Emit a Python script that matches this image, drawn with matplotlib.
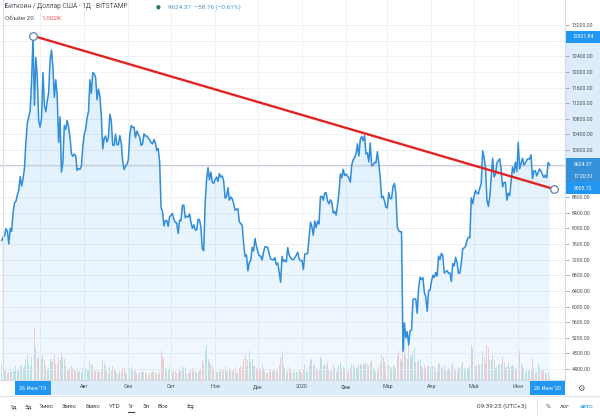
import numpy as np
import pandas as pd
import matplotlib
matplotlib.use('Agg')
import matplotlib.pyplot as plt
import matplotlib.dates as mdates
from matplotlib.patches import Rectangle
from matplotlib.lines import Line2D

plt.rcParams['font.family'] = ['Roboto', 'DejaVu Sans']

# ---------------- data ----------------
start_date = '2019-06-04'
closes = [
    # Jun 2019 (4-30)
    7690, 7780, 7800, 7990, 7920, 7600, 8000, 7920, 8400, 8650, 8690, 8850, 8980, 9320, 9080, 9270, 9530,
    10200, 10690, 10850, 11010, 11750, 12921.84, 11150, 12370, 11880, 10760,
    # Jul
    10590, 10820, 11980, 11150, 10980, 11250, 11470, 12300, 12560, 12100, 11350, 11800, 11390, 10200, 10850,
    9440, 9690, 10630, 10530, 10760, 10590, 10330, 9910, 9840, 9900, 9860, 9480, 9530, 9510, 9590, 10090,
    # Aug
    10400, 10530, 10830, 10980, 11800, 11450, 11980, 11950, 11860, 11290, 11560, 11390, 10880, 10030, 10300,
    10360, 10210, 10320, 10920, 10760, 10130, 10120, 10410, 10140, 10140, 10370, 10190, 9720, 9500, 9600, 9630,
    # Sep
    9760, 10380, 10630, 10580, 10590, 10320, 10490, 10400, 10330, 10120, 10160, 10420, 10360, 10360, 10310,
    10260, 10190, 10160, 10270, 10180, 9990, 10040, 9700, 8530, 8430, 8060, 8200, 8200, 8050, 8300,
    # Oct
    8330, 8380, 8230, 8150, 8140, 7870, 8210, 8190, 8590, 8590, 8270, 8310, 8290, 8370, 8160, 8000, 8090,
    7960, 7960, 8230, 8220, 8030, 7470, 7430, 8660, 9260, 9550, 9240, 9440, 9180, 9150,
    # Nov
    9250, 9310, 9200, 9400, 9310, 9340, 9210, 8770, 8810, 9040, 8720, 8800, 8760, 8630, 8460, 8490, 8500,
    8170, 8120, 8080, 7620, 7280, 7320, 6910, 7130, 7170, 7510, 7420, 7740, 7550,
    # Dec
    7400, 7300, 7290, 7190, 7390, 7530, 7520, 7510, 7340, 7220, 7200, 7190, 7250, 7070, 7110, 6880, 6620,
    7280, 7150, 7190, 7140, 7510, 7320, 7250, 7200, 7200, 7250, 7310, 7390, 7220, 7170,
    # Jan 2020
    7180, 6950, 7340, 7350, 7360, 7760, 8160, 8040, 7820, 8190, 8020, 8180, 8110, 8810, 8820, 8720, 8900,
    8910, 8700, 8630, 8730, 8660, 8390, 8430, 8340, 8600, 8900, 9390, 9290, 9510, 9350,
    # Feb
    9390, 9340, 9290, 9180, 9620, 9750, 9810, 9910, 10160, 9850, 10270, 10350, 10240, 10370, 9900, 9930,
    9700, 10180, 9600, 9610, 9690, 9670, 9960, 9660, 9310, 8780, 8820, 8700, 8540,
    # Mar
    8520, 8910, 8760, 8760, 9070, 9150, 8900, 8040, 7940, 7910, 7910, 4860, 5580, 5200, 5360, 5020, 5380,
    5400, 6180, 6200, 6190, 5830, 6480, 6750, 6690, 6740, 6370, 6250, 5880, 6400, 6420,
    # Apr
    6640, 6800, 6740, 6870, 6780, 7290, 7200, 7360, 7300, 6860, 6890, 6920, 6850, 6860, 6640, 7100, 7040,
    7260, 7130, 6850, 6860, 7120, 7480, 7500, 7540, 7690, 7770, 7760, 8780, 8630,
    # May
    8830, 8970, 8900, 8880, 9030, 9150, 9980, 9810, 9550, 8730, 8560, 8810, 9300, 9790, 9320, 9380, 9670,
    9730, 9780, 9510, 9060, 9170, 9180, 8720, 8900, 8840, 9200, 9570, 9420, 9690, 9450,
    # Jun 2020 (1-23)
    10200, 9520, 9660, 9790, 9620, 9670, 9750, 9780, 9770, 9880, 9270, 9470, 9470, 9340, 9430, 9520, 9460,
    9380, 9300, 9360, 9290, 9683.13, 9624.37,
]
volumes_k = [
    14, 10, 9, 8, 6, 7, 9, 7, 8, 8, 12, 8, 9, 13, 11, 10, 12, 18, 22, 15, 12, 20, 60, 45, 28, 18, 20,
    20, 18, 22, 17, 12, 9, 10, 18, 16, 18, 22, 14, 13, 20, 17, 24, 20, 18, 12, 9, 8, 10, 12, 10, 9, 8, 10, 7, 8, 7, 10,
    11, 10, 9, 8, 16, 14, 13, 9, 8, 9, 7, 7, 9, 17, 15, 12, 8, 6, 11, 8, 12, 10, 8, 6, 5, 8, 7, 11, 10, 7, 5,
    5, 10, 11, 9, 8, 9, 6, 5, 7, 8, 7, 7, 6, 5, 4, 6, 6, 7, 8, 6, 6, 5, 8, 25, 20, 18, 10, 8, 9, 11,
    9, 7, 8, 8, 6, 7, 9, 8, 12, 10, 11, 6, 6, 7, 9, 10, 8, 8, 6, 7, 8, 9, 17, 14, 26, 30, 18, 16, 14, 12, 9,
    8, 7, 7, 8, 9, 8, 9, 12, 8, 7, 10, 9, 8, 9, 11, 6, 6, 10, 12, 11, 18, 22, 12, 17, 25, 16, 18, 12, 12, 10,
    9, 10, 8, 13, 10, 8, 6, 7, 8, 9, 8, 9, 8, 9, 7, 13, 20, 25, 13, 10, 6, 8, 11, 9, 6, 7, 8, 7, 7, 9, 8,
    6, 9, 14, 8, 7, 12, 17, 18, 12, 14, 10, 8, 9, 20, 18, 12, 14, 12, 16, 9, 8, 9, 13, 10, 7, 8, 13, 15, 10, 11, 10,
    8, 7, 9, 10, 14, 13, 11, 10, 10, 13, 14, 13, 14, 13, 16, 14, 12, 15, 17, 10, 9, 7, 7, 11, 15, 22, 20, 16, 12,
    11, 13, 11, 10, 13, 11, 10, 21, 25, 18, 16, 55, 50, 22, 18, 30, 22, 20, 25, 28, 16, 16, 18, 17, 12, 10, 13, 10, 12, 12, 11,
    12, 12, 11, 8, 7, 15, 14, 11, 10, 13, 8, 8, 10, 9, 11, 15, 10, 8, 7, 11, 10, 12, 16, 10, 8, 9, 10, 12, 30, 28,
    18, 12, 13, 14, 13, 14, 25, 20, 15, 30, 28, 18, 17, 22, 17, 10, 11, 13, 14, 14, 20, 15, 10, 12, 15, 11, 12, 13, 11, 10, 9,
    20, 25, 14, 11, 10, 7, 8, 9, 8, 9, 18, 11, 6, 7, 14, 11, 9, 8, 9, 7, 5, 8, 1.002,
]
trend_dates = ['2019-06-26', '2020-06-26']
trend_values = [12921.84, 9005.72]
price_ticks = [4400, 4800, 5200, 5600, 6000, 6400, 6800, 7200, 7600, 8000, 8400, 8800, 9200, 9600,
               10000, 10400, 10800, 11200, 11600, 12000, 12400, 12800, 13200]
hidden_price_labels = [9200, 9600, 12800]  # covered by the value boxes
month_ticks = ['2019-07-01', '2019-08-01', '2019-09-01', '2019-10-01', '2019-11-01', '2019-12-01',
               '2020-01-01', '2020-02-01', '2020-03-01', '2020-04-01', '2020-05-01', '2020-06-01']
month_labels = ['', 'Авг', 'Сен', 'Окт', 'Ноя', 'Дек', '2020', 'Фев', 'Мар', 'Апр', 'Май', 'Июн']

n = min(len(closes), len(volumes_k))
dates = pd.date_range(start_date, periods=n, freq='D')
c = np.array(closes[:n], dtype=float)
v = np.array(volumes_k[:n], dtype=float)
up = np.r_[True, c[1:] >= c[:-1]]

# ---------------- figure ----------------
W, H = 600, 418
fig = plt.figure(figsize=(W / 100, H / 100), dpi=100)
fig.patch.set_facecolor('white')

def fx(x):
    return x / W

def fy(y):
    return 1 - y / H

ax_left, ax_right, ax_top, ax_bot = 0, 565, 0, 380
ax = fig.add_axes([fx(ax_left), fy(ax_bot), (ax_right - ax_left) / W, (ax_bot - ax_top) / H])
ax2 = ax.twinx()
ax.set_zorder(2)
ax2.set_zorder(1)
ax.patch.set_visible(False)

anchor = mdates.date2num(pd.Timestamp('2019-06-26'))
ppd = 1.423
xlim = (anchor - 33 / ppd, anchor + (565 - 33) / ppd)
ylim = (4121, 13839)

# volume
ax2.bar(dates[up], v[up], width=0.7, color='#26a69a', alpha=0.28, linewidth=0)
ax2.bar(dates[~up], v[~up], width=0.7, color='#ef5350', alpha=0.28, linewidth=0)
ax2.set_ylim(0, 330)
ax2.set_yticks([])
for s in ax2.spines.values():
    s.set_visible(False)

# area fill with gradient
poly = ax.fill_between(dates, c, ylim[0], color='none', linewidth=0)
grad = np.zeros((256, 1, 4))
grad[:, 0, 0] = 33 / 255
grad[:, 0, 1] = 150 / 255
grad[:, 0, 2] = 243 / 255
grad[:, 0, 3] = np.linspace(0.17, 0.06, 256)
im = ax.imshow(grad, extent=[xlim[0], xlim[1], ylim[0], ylim[1]], aspect='auto', origin='upper', zorder=1)
im.set_clip_path(poly.get_paths()[0], transform=ax.transData)

ax.plot(dates, c, color='#2f8ddb', lw=1.1, zorder=3, solid_joinstyle='round')
ax.axhline(c[-1], color='#c9ced6', lw=0.8, zorder=2)

td = pd.to_datetime(trend_dates)
ax.plot(td, trend_values, color='#e02323', lw=1.7, zorder=4, solid_capstyle='round')
ax.plot(td, trend_values, 'o', ms=5.5, mfc='white', mec='#5f7fb0', mew=0.9, zorder=5, clip_on=False)

ax.set_xlim(*xlim)
ax.set_ylim(*ylim)

# grid
ax.set_yticks(price_ticks)
ax.set_yticklabels(['' if p in hidden_price_labels else f'{p:.2f}' for p in price_ticks])
ax.yaxis.tick_right()
ax.tick_params(axis='y', length=3, width=0.6, pad=2, labelsize=3.7, colors='#9aa0a8', labelcolor='#4a4f57')
ax.set_xticks(pd.to_datetime(month_ticks))
ax.set_xticklabels(month_labels)
ax.tick_params(axis='x', length=0, pad=3.2, labelsize=3.9, labelcolor='#4a4f57')
ax.grid(True, color='#eef1f6', lw=0.7, zorder=0)
ax.set_axisbelow(True)
for k, s in ax.spines.items():
    s.set_color('#d6d9df')
    s.set_linewidth(0.8)
ax.spines['top'].set_visible(False)
ax.spines['left'].set_visible(False)

# ---------------- decorations (figure pixel coords) ----------------
def rect(x0, y0, x1, y1, color, z=-1):
    fig.patches.append(Rectangle((fx(x0), fy(y1)), (x1 - x0) / W, (y1 - y0) / H,
                                 transform=fig.transFigure, facecolor=color, edgecolor='none', zorder=z))

def hline(x0, x1, y, color='#e0e3eb', lw=0.8):
    fig.lines.append(Line2D([fx(x0), fx(x1)], [fy(y), fy(y)], transform=fig.transFigure, color=color, lw=lw))

def vline(x, y0, y1, color='#e0e3eb', lw=0.8):
    fig.lines.append(Line2D([fx(x), fx(x)], [fy(y0), fy(y1)], transform=fig.transFigure, color=color, lw=lw))

# highlighted ranges on axes
rect(566, 37, 600, 188, '#ddecfa')
rect(33, 381, 554, 395, '#ddecfa')
vline(2.5, 0, 380, '#dcdfe5', 0.8)

def label_box(x0, x1, yc, text, color, h=12, size=3.7):
    rect(x0, yc - h / 2, x1, yc + h / 2, color, z=5)
    fig.text(fx((x0 + x1) / 2), fy(yc), text, ha='center', va='center', fontsize=size,
             color='white', zorder=6)

label_box(566, 600, 37, '12921.84', '#2196f3')
label_box(566, 600, 164, '9624.37', '#3490d8')
label_box(566, 600, 176, '17:20:31', '#3490d8')
label_box(566, 600, 188, '9005.72', '#2196f3')
label_box(15, 51, 388, "26 Июн '19", '#2196f3', h=14, size=3.9)
label_box(530, 565, 388, "26 Июн '20", '#2196f3', h=14, size=3.9)

# gear icon
fig.text(fx(581), fy(388), '⚙', ha='center', va='center', fontsize=6, color='#50555d',
         family='DejaVu Sans')

# header
fig.text(fx(5), fy(7), 'Биткоин / Доллар США · 1Д · BITSTAMP', ha='left', va='center',
         fontsize=4.8, color='#50555d')
fig.text(fx(158), fy(7), '●', ha='center', va='center', fontsize=4, color='#2e7d5b',
         family='DejaVu Sans')
fig.text(fx(168), fy(7), '9624.37  −58.76 (−0.61%)', ha='left', va='center',
         fontsize=4.6, color='#4d94d1')
fig.text(fx(5), fy(18), 'Объём 20', ha='left', va='center', fontsize=4.6, color='#50555d')
fig.text(fx(41), fy(18), '1.002K', ha='left', va='center', fontsize=4.6, color='#ef5350')

# bottom toolbar
hline(0, 600, 395.5, '#e0e3eb', 0.8)
toolbar = [('1д', 13), ('5д', 28), ('1мес', 46), ('3мес', 69), ('6мес', 93), ('YTD', 115),
           ('1г', 131), ('5л', 146), ('Все', 163)]
for txt, x in toolbar:
    fig.text(fx(x), fy(406.5), txt, ha='center', va='center', fontsize=4.6, color='#3c4048')
hline(128, 134, 411.5, '#3c4048', 0.8)
fig.text(fx(190), fy(406.5), '⇆', ha='center', va='center', fontsize=6, color='#50555d',
         family='DejaVu Sans')
fig.text(fx(502), fy(406.5), '09:39:25 (UTC+3)', ha='center', va='center', fontsize=4.6,
         color='#3c4048')
vline(537, 399, 414, '#e0e3eb', 0.8)
fig.text(fx(548), fy(406.5), '%', ha='center', va='center', fontsize=4.6, color='#3c4048')
fig.text(fx(564), fy(406.5), 'лог', ha='center', va='center', fontsize=4.6, color='#3c4048',
         style='italic')
fig.text(fx(587), fy(406.5), 'авто', ha='center', va='center', fontsize=4.6, color='#2196f3')

fig.savefig('out.png', dpi=100, facecolor='white')
